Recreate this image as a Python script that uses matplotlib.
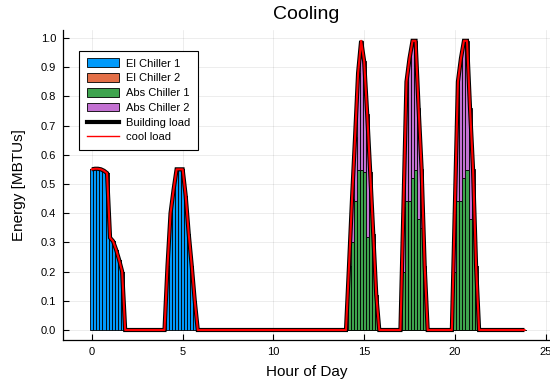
import matplotlib

matplotlib.use("Agg")

import matplotlib.pyplot as plt
import numpy as np
from matplotlib.patches import Patch
from matplotlib.lines import Line2D

plt.rcParams["font.family"] = ["Liberation Sans", "DejaVu Sans"]

# 10 minute steps over one day
hours = np.arange(144) / 6

# (start index, values) of the non-zero runs
el_chiller_1_runs = [
    (0, [0.55, 0.552, 0.552, 0.55, 0.545, 0.537, 0.316, 0.304, 0.275, 0.24, 0.2]),
    (25, [0.22, 0.4, 0.48, 0.55, 0.55, 0.55, 0.46, 0.33, 0.22, 0.1]),
]
el_chiller_2_runs = []
abs_chiller_1_runs = [
    (85, [0.22, 0.3, 0.44, 0.548, 0.548, 0.54, 0.32, 0.54, 0.33, 0.12]),
    (103, [0.2, 0.44, 0.44, 0.52, 0.548, 0.38, 0.35, 0.22]),
    (120, [0.2, 0.44, 0.44, 0.52, 0.548, 0.38, 0.35, 0.22]),
]
abs_chiller_2_runs = [
    (85, [0.0, 0.15, 0.22, 0.332, 0.442, 0.38, 0.42, 0.0, 0.0, 0.0]),
    (103, [0.22, 0.41, 0.49, 0.47, 0.442, 0.38, 0.2, 0.0]),
    (120, [0.22, 0.41, 0.49, 0.47, 0.442, 0.38, 0.2, 0.0]),
]

labels = ["El Chiller 1", "El Chiller 2", "Abs Chiller 1", "Abs Chiller 2"]
colors = ["#009AFA", "#E36F47", "#3EA44E", "#C371D2"]


def fill(runs):
    arr = np.zeros(len(hours))
    for start, vals in runs:
        arr[start:start + len(vals)] = vals
    return arr


series = [fill(r) for r in (el_chiller_1_runs, el_chiller_2_runs,
                            abs_chiller_1_runs, abs_chiller_2_runs)]
building_load = sum(series)
cool_load = building_load

fig = plt.figure(figsize=(5.5, 3.84), dpi=100)
ax = fig.add_axes([62.5 / 550, 1 - 340.4 / 384, (550 - 62.5) / 550, (340.4 - 30) / 384])

bottom = np.zeros(len(hours))
for vals, col in zip(series, colors):
    ax.bar(hours, vals, width=1 / 6, bottom=bottom, color=col,
           edgecolor="black", linewidth=0.6, zorder=2)
    bottom = bottom + vals

ax.plot(hours, building_load, color="black", linewidth=3.0,
        solid_joinstyle="miter", solid_capstyle="butt", zorder=3)
ax.plot(hours, cool_load, color="red", linewidth=1.5, zorder=4)

ax.set_xlim(-1.62, 25.24)
ax.set_ylim(-0.0356, 1.027)
ax.set_xticks([0, 5, 10, 15, 20, 25])
ax.set_yticks(np.arange(0, 1.01, 0.1))
ax.set_yticklabels([f"{v:.1f}" for v in np.arange(0, 1.01, 0.1)])
ax.tick_params(direction="in", length=4, width=0.8, labelsize=8, pad=4.5)
ax.grid(True, color="black", alpha=0.1, linewidth=0.5, zorder=0)
ax.set_axisbelow(True)
for side in ("top", "right"):
    ax.spines[side].set_visible(False)
for side in ("left", "bottom"):
    ax.spines[side].set_linewidth(0.9)

ax.set_title("Cooling", fontsize=14, pad=8)
ax.set_xlabel("Hour of Day", fontsize=11, labelpad=6)
ax.set_ylabel("Energy [MBTUs]", fontsize=11, labelpad=11)

handles = [Patch(facecolor=c, edgecolor="black", linewidth=0.6) for c in colors]
handles += [Line2D([], [], color="black", linewidth=3.0),
            Line2D([], [], color="red", linewidth=1.0)]
leg = ax.legend(handles, labels + ["Building load", "cool load"],
                loc="upper left", bbox_to_anchor=(79.3 / 550, 1 - 50.7 / 384),
                bbox_transform=fig.transFigure, borderaxespad=0, fontsize=8,
                fancybox=False, framealpha=1, edgecolor="black",
                handlelength=2.9, handleheight=0.8, labelspacing=0.42,
                handletextpad=0.6, borderpad=0.7)
leg.get_frame().set_linewidth(0.8)

fig.savefig("out.png", dpi=100)
